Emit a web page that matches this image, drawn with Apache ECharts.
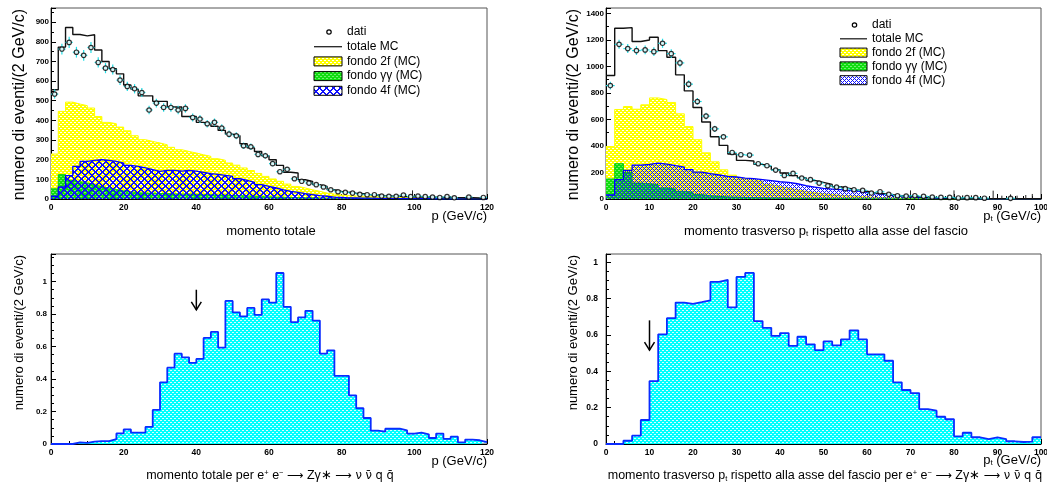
<!DOCTYPE html>
<html>
<head>
<meta charset="utf-8">
<script src="https://cdn.jsdelivr.net/npm/echarts@6/dist/echarts.min.js"></script>
<style>
  html, body { margin: 0; padding: 0; background: #fff; }
  #chart { width: 1047px; height: 487px; }
</style>
</head>
<body>
<div id="chart"></div>
<script>
// Histograms in 2 GeV/c bins.
// Total momentum p, 0–120 GeV/c (60 bins)
const pData = [534, 763, 797, 747, 731, 771, 695, 666, 659, 605,
  573, 561, 542, 453, 488, 466, 466, 453, 461, 415,
  407, 383, 390, 361, 330, 322, 271, 266, 227, 220,
  180, 139, 151, 103, 90, 81, 73, 61, 47, 37,
  34, 30, 24, 22, 22, 15, 14, 14, 20, 12,
  15, 12, 10, 8, 12, 6, null, 10, null, 8];
const pTotMC = [556, 773, 873, 837, 830, 836, 758, 700, 663, 637,
  580, 559, 525, 525, 497, 497, 468, 468, 420, 420,
  390, 383, 370, 349, 330, 322, 281, 260, 242, 220,
  200, 171, 136, 132, 98, 90, 73, 64, 47, 39,
  34, 30, 27, 22, 20, 17, 15, 14, 12, 11,
  10, 10, 9, 8, 8, 7, 6, 6, 5, 5];
const p2f = [229, 446, 493, 483, 475, 463, 420, 390, 383, 366,
  347, 322, 302, 293, 285, 276, 263, 251, 242, 234,
  225, 217, 205, 197, 183, 172, 158, 145, 130, 115,
  102, 90, 76, 64, 56, 47, 39, 30, 25, 20,
  17, 15, 14, 12, 11, 10, 9, 8, 8, 7,
  7, 6, 6, 5, 5, 4, 4, 4, 3, 3];
const pGG = [52, 124, 95, 88, 82, 72, 62, 56, 48, 42,
  36, 32, 30, 30, 28, 28, 26, 25, 25, 24,
  22, 22, 20, 20, 18, 17, 15, 14, 12, 11,
  10, 9, 8, 7, 6, 6, 5, 4, 4, 3,
  3, 3, 2, 2, 2, 2, 2, 1, 1, 1,
  1, 1, 1, 1, 1, 1, 1, 1, 1, 1];
const p4f = [14, 61, 119, 166, 191, 197, 200, 197, 191, 183,
  171, 166, 158, 149, 141, 146, 146, 142, 146, 142,
  136, 129, 125, 120, 115, 103, 95, 85, 73, 64,
  56, 47, 39, 34, 27, 22, 17, 14, 10, 8,
  6, 5, 4, 4, 3, 3, 3, 2, 2, 2,
  2, 2, 1, 1, 1, 1, 1, 1, 1, 1];
const pMCErr = [[99.5, 44]];

// Transverse momentum pt, 0–100 GeV/c (50 bins)
const ptData = [855, 1166, 1134, 1119, 1124, 1111, 1174, 1096, 1026, 866,
  735, 625, 529, 469, 351, 334, 331, 266, 251, 218,
  178, 193, 158, 146, 120, 100, 90, 78, 70, 65,
  45, 55, 35, 25, 22, 25, 20, 15, 12, 12,
  8, 10, 10, 6, null, null, 5, null, null, null];
const ptTotMC = [931, 1287, 1292, 1187, 1199, 1219, 1119, 1069, 936, 815,
  690, 580, 469, 404, 339, 291, 286, 261, 246, 221,
  196, 176, 160, 140, 125, 110, 92, 80, 68, 58,
  45, 40, 32, 25, 20, 16, 12, 10, 8, 6,
  5, 4, 4, 3, 3, 3, 2, 2, 2, 2];
const pt2f = [396, 675, 697, 677, 710, 762, 750, 728, 642, 546,
  447, 348, 280, 220, 180, 155, 146, 133, 110, 95,
  82, 70, 58, 48, 40, 34, 28, 24, 20, 16,
  13, 11, 9, 7, 6, 5, 4, 3, 3, 2,
  2, 2, 1, 1, 1, 1, 1, 1, 1, 1];
const ptGG = [151, 266, 200, 120, 115, 108, 83, 75, 58, 50,
  33, 25, 20, 16, 14, 12, 10, 9, 8, 7,
  6, 5, 5, 4, 4, 3, 3, 3, 2, 2,
  2, 2, 1, 1, 1, 1, 1, 1, 1, 1,
  1, 0, 0, 0, 0, 0, 0, 0, 0, 0];
const pt4f = [30, 146, 216, 256, 261, 271, 263, 251, 241, 221,
  203, 191, 181, 171, 166, 158, 153, 146, 138, 130,
  125, 115, 100, 90, 80, 75, 70, 65, 60, 50,
  40, 35, 28, 23, 18, 13, 10, 7, 5, 4,
  3, 3, 2, 2, 2, 1, 1, 1, 1, 1];
const ptMCErr = [[70, 65], [80, 65], [82, 28], [84, 28], [89, 63],
  [91, 25], [93, 35], [94.5, 25], [96.5, 30], [98, 38]];

// Signal e+e- -> Z gamma* -> nu nubar q qbar
const pSignal = [0, 0, 0, 0.01, 0.007, 0.015, 0.018, 0.018, 0.03, 0.065,
  0.09, 0.07, 0.07, 0.105, 0.21, 0.38, 0.47, 0.556, 0.534, 0.50,
  0.524, 0.653, 0.69, 0.593, 0.881, 0.81, 0.786, 0.838, 0.795, 0.89,
  0.87, 1.053, 0.845, 0.75, 0.78, 0.82, 0.76, 0.556, 0.577, 0.42,
  0.42, 0.30, 0.22, 0.16, 0.082, 0.076, 0.094, 0.094, 0.084, 0.064,
  0.07, 0.06, 0.037, 0.064, 0.031, 0.045, 0.01, 0.027, 0.023, 0.012];
const ptSignal = [0, 0, 0.018, 0.046, 0.132, 0.346, 0.603, 0.692, 0.778, 0.771,
  0.78, 0.79, 0.892, 0.903, 0.751, 0.919, 0.941, 0.676, 0.639, 0.595,
  0.61, 0.54, 0.59, 0.548, 0.516, 0.564, 0.542, 0.575, 0.625, 0.575,
  0.493, 0.493, 0.458, 0.339, 0.297, 0.28, 0.192, 0.183, 0.15, 0.136,
  0.042, 0.062, 0.037, 0.027, 0.037, 0.027, 0.015, 0.011, 0.013, 0.037];

// Cut positions marked with arrows: [x, arrow top, arrow tip]
const pCutArrow = [[40, 0.95, 0.826]];
const ptCutArrow = [[10, 0.68, 0.516]];

// Axis ranges: [max, tick interval, minor splits]
const pAxis = [120, 20, 4];
const ptAxis = [100, 10, 5];
const yAxisP = [972, 100, 2];
const yAxisPt = [1440, 200, 2];
const yAxisSigP = [1.17, 0.2, 4];
const yAxisSigPt = [1.045, 0.2, 4];

const BIN = 2;
const FF = '"Liberation Sans", Arial, Helvetica, sans-serif';
const FG = '"DejaVu Sans", "Liberation Sans", sans-serif';

// ---- fill patterns ----
function dotted(bg, dot, p, spots) {
  const c = document.createElement('canvas');
  c.width = p; c.height = p;
  const g = c.getContext('2d');
  g.fillStyle = bg; g.fillRect(0, 0, p, p);
  g.fillStyle = dot;
  spots.forEach(s => g.fillRect(s[0], s[1], 1, 1));
  return { image: c, repeat: 'repeat' };
}
function crossHatch(color, p, thick, bg) {
  const c = document.createElement('canvas');
  c.width = p; c.height = p;
  const g = c.getContext('2d');
  if (bg) { g.fillStyle = bg; g.fillRect(0, 0, p, p); }
  g.fillStyle = color;
  for (let y = 0; y < p; y++) {
    for (let x = 0; x < p; x++) {
      if ((x + y) % p < thick || ((x - y) % p + p) % p < thick) g.fillRect(x, y, 1, 1);
    }
  }
  return { image: c, repeat: 'repeat' };
}
const fineSpots = [[0, 0], [1, 0], [2, 2], [3, 2]];
const yellowFill = dotted('#ffff00', '#ffffff', 4, fineSpots);
const greenFill = dotted('#10dd10', '#70f070', 4, fineSpots);
const cyanFill = dotted('#00ffff', '#d8ffff', 4, fineSpots);
const blueHatchL = crossHatch('#1010ff', 7, 2);
const blueHatchR = crossHatch('#1010ff', 4, 1);
const blueHatchLBox = crossHatch('#1010ff', 7, 2, '#ffffff');
const blueHatchRBox = crossHatch('#1010ff', 4, 1, '#ffffff');

// ---- helpers ----
const histPoints = vals => vals.map((v, i) => [i * BIN, v]).concat([[vals.length * BIN, vals[vals.length - 1]]]);
const binCenters = vals => vals.map((v, i) => (v == null ? null : [i * BIN + BIN / 2, v])).filter(Boolean);

function histSeries(k, name, vals, lineColor, lineWidth, fill, z) {
  return {
    type: 'line', name, xAxisIndex: k, yAxisIndex: k, step: 'end',
    data: histPoints(vals), symbol: 'none', showSymbol: false, z,
    lineStyle: { color: lineColor, width: lineWidth },
    areaStyle: fill ? { color: fill, opacity: 1 } : undefined,
    animation: false, silent: true
  };
}
function errorBarSeries(k, vals) {
  return {
    type: 'custom', xAxisIndex: k, yAxisIndex: k, z: 6, silent: true, animation: false,
    clip: true,
    data: binCenters(vals).map(d => [d[0], d[1], Math.sqrt(d[1])]),
    encode: { x: 0, y: 1 },
    renderItem(params, api) {
      const x = api.value(0), y = api.value(1), e = api.value(2);
      const c = api.coord([x, y]);
      const l = api.coord([x - BIN / 2, y]), r = api.coord([x + BIN / 2, y]);
      const t = api.coord([x, y + e]), b = api.coord([x, Math.max(0, y - e)]);
      const st = { stroke: '#22dde6', lineWidth: 1.2 };
      return { type: 'group', children: [
        { type: 'line', shape: { x1: l[0], y1: c[1], x2: r[0], y2: c[1] }, style: st },
        { type: 'line', shape: { x1: c[0], y1: t[1], x2: c[0], y2: b[1] }, style: st }
      ] };
    }
  };
}
function pointSeries(k, vals) {
  return {
    type: 'scatter', name: 'dati', xAxisIndex: k, yAxisIndex: k, z: 7, silent: true, animation: false,
    data: binCenters(vals), symbol: 'circle', symbolSize: 4.4,
    itemStyle: { color: '#ffffff', borderColor: '#000', borderWidth: 1.2 }
  };
}
function mcErrSeries(k, list) {
  return {
    type: 'custom', xAxisIndex: k, yAxisIndex: k, z: 5, silent: true, animation: false,
    data: list, encode: { x: 0, y: 1 },
    renderItem(params, api) {
      const a = api.coord([api.value(0), 0]), b = api.coord([api.value(0), api.value(1)]);
      return { type: 'line', shape: { x1: a[0], y1: a[1], x2: b[0], y2: b[1] }, style: { stroke: '#222', lineWidth: 1 } };
    }
  };
}
function arrowSeries(k, list) {
  return {
    type: 'custom', xAxisIndex: k, yAxisIndex: k, z: 8, silent: true, animation: false,
    data: list, encode: { x: 0, y: 1 },
    renderItem(params, api) {
      const top = api.coord([api.value(0), api.value(1)]);
      const tip = api.coord([api.value(0), api.value(2)]);
      const st = { stroke: '#000', lineWidth: 1.5, fill: null };
      return { type: 'group', children: [
        { type: 'line', shape: { x1: top[0], y1: top[1], x2: tip[0], y2: tip[1] }, style: st },
        { type: 'polyline', shape: { points: [[tip[0] - 5, tip[1] - 8], [tip[0], tip[1]], [tip[0] + 5, tip[1] - 8]] }, style: st }
      ] };
    }
  };
}

// ---- layout ----
const grids = [
  { left: 51, top: 8, width: 436, height: 191 },
  { left: 606, top: 8, width: 435, height: 191 },
  { left: 51, top: 254, width: 436, height: 190 },
  { left: 606, top: 254, width: 435, height: 190 }
].map(g => Object.assign(g, { show: true, borderColor: '#555', borderWidth: 1, backgroundColor: 'transparent', outerBoundsMode: 'none', containLabel: false }));

const plainNum = v => String(Math.round(v * 1000) / 1000);
function xAxisCfg(k, ax) {
  return {
    type: 'value', gridIndex: k, min: 0, max: ax[0], interval: ax[1],
    axisLine: { show: true, onZero: false, lineStyle: { color: '#000', width: 1 } },
    axisTick: { show: true, inside: true, length: 5, lineStyle: { color: '#000' } },
    minorTick: { show: true, splitNumber: ax[2], length: 3, lineStyle: { color: '#000' } },
    splitLine: { show: false }, minorSplitLine: { show: false },
    axisLabel: { fontFamily: FF, fontSize: 8.5, fontWeight: 'bold', color: '#000', margin: 4, hideOverlap: false, formatter: plainNum }
  };
}
function yAxisCfg(k, ax, labelSize, labelMargin) {
  return {
    type: 'value', gridIndex: k, min: 0, max: ax[0], interval: ax[1],
    axisLine: { show: true, onZero: false, lineStyle: { color: '#000', width: 1 } },
    axisTick: { show: true, inside: true, length: 5, lineStyle: { color: '#000' } },
    minorTick: { show: true, splitNumber: ax[2], length: 3, lineStyle: { color: '#000' } },
    splitLine: { show: false }, minorSplitLine: { show: false },
    axisLabel: { fontFamily: FF, fontSize: labelSize, fontWeight: 'bold', color: '#000', margin: labelMargin, showMaxLabel: false, hideOverlap: false, formatter: plainNum }
  };
}

// ---- text elements ----
function text(x, y, str, size, align, extra) {
  return Object.assign({
    type: 'text', x, y, silent: true,
    style: Object.assign({ text: str, fill: '#000', fontFamily: FF, fontSize: size, align, verticalAlign: 'middle' }, (extra && extra.style) || {})
  }, (extra && extra.el) || {});
}
const rich13 = {
  n: { fontFamily: FF, fontSize: 13 },
  s: { fontFamily: FF, fontSize: 8, padding: [6, 0, 0, 0] }
};
// smaller set for the long process captions under the lower panels
const richProc = {
  n: { fontFamily: FF, fontSize: 12.5 },
  t: { fontFamily: FF, fontSize: 7.5, padding: [6, 0, 0, 0] },
  s: { fontFamily: FF, fontSize: 7.5, padding: [0, 0, 6, 0] },
  g: { fontFamily: FG, fontSize: 11.5 }
};
const yTitle = 'numero di eventi/(2 GeV/c)';
function yTitleEl(x, yTop, size) {
  return text(x, yTop, yTitle, size, 'right', { el: { rotation: Math.PI / 2 } });
}
function legendEls(x0, y0, dy, boxW, hatchBox) {
  const items = [];
  const tx = x0 + boxW + 5;
  items.push({ type: 'circle', silent: true, shape: { cx: x0 + boxW / 2 + 1, cy: y0, r: 2.2 }, style: { fill: null, stroke: '#000', lineWidth: 1.2 } });
  items.push(text(tx, y0, 'dati', 12, 'left'));
  items.push({ type: 'line', silent: true, shape: { x1: x0, y1: y0 + dy, x2: x0 + boxW, y2: y0 + dy }, style: { stroke: '#222', lineWidth: 1.3 } });
  items.push(text(tx, y0 + dy, 'totale MC', 12, 'left'));
  const boxes = [[yellowFill, 'fondo 2f (MC)'], [greenFill, 'fondo γγ (MC)'], [hatchBox, 'fondo 4f (MC)']];
  boxes.forEach((b, i) => {
    const cy = y0 + dy * (i + 2);
    items.push({ type: 'rect', silent: true, shape: { x: x0, y: cy - 4.5, width: boxW, height: 9 }, style: { fill: b[0], stroke: '#000', lineWidth: 1 } });
    items.push(text(tx, cy, b[1], 12, 'left'));
  });
  return items;
}
const processTail = '{n| per e}{s|+}{n| e}{s|−}{n| }{g|⟶}{n| Zγ∗ }{g|⟶ ν ν̄ q q̄}';

const graphic = [
  yTitleEl(20, 9, 16),
  yTitleEl(574, 9, 16),
  yTitleEl(19, 255, 13),
  yTitleEl(573, 255, 13),
  text(487, 216, 'p (GeV/c)', 13, 'right'),
  text(1041, 216, '{n|p}{s|t}{n| (GeV/c)}', 13, 'right', { style: { rich: rich13 } }),
  text(487, 461, 'p (GeV/c)', 13, 'right'),
  text(1041, 460, '{n|p}{s|t}{n| (GeV/c)}', 13, 'right', { style: { rich: rich13 } }),
  text(271, 231, 'momento totale', 13, 'center'),
  text(826, 231, '{n|momento trasverso p}{s|t}{n| rispetto alla asse del fascio}', 13, 'center', { style: { rich: rich13 } }),
  text(270, 476, '{n|momento totale}' + processTail, 12.5, 'center', { style: { rich: richProc } }),
  text(825, 476, '{n|momento trasverso p}{t|t}{n| rispetto alla asse del fascio}' + processTail, 12.5, 'center', { style: { rich: richProc } })
].concat(legendEls(314, 32, 14.7, 28, blueHatchLBox), legendEls(840, 25, 13.8, 27, blueHatchRBox));

const series = [
  // total momentum
  histSeries(0, 'fondo 2f (MC)', p2f, '#ffff00', 1, yellowFill, 1),
  histSeries(0, 'fondo γγ (MC)', pGG, '#10cc10', 1, greenFill, 2),
  histSeries(0, 'fondo 4f (MC)', p4f, '#0000ff', 1.3, blueHatchL, 3),
  histSeries(0, 'totale MC', pTotMC, '#111', 1.4, null, 4),
  mcErrSeries(0, pMCErr),
  errorBarSeries(0, pData),
  pointSeries(0, pData),
  // transverse momentum
  histSeries(1, 'fondo 2f (MC)', pt2f, '#ffff00', 1, yellowFill, 1),
  histSeries(1, 'fondo γγ (MC)', ptGG, '#10cc10', 1, greenFill, 2),
  histSeries(1, 'fondo 4f (MC)', pt4f, '#0000ff', 1.3, blueHatchR, 3),
  histSeries(1, 'totale MC', ptTotMC, '#111', 1.4, null, 4),
  mcErrSeries(1, ptMCErr),
  errorBarSeries(1, ptData),
  pointSeries(1, ptData),
  // signal
  histSeries(2, 'segnale p', pSignal, '#0a2cff', 1.8, cyanFill, 2),
  arrowSeries(2, pCutArrow),
  histSeries(3, 'segnale pt', ptSignal, '#0a2cff', 1.8, cyanFill, 2),
  arrowSeries(3, ptCutArrow)
];

const chart = echarts.init(document.getElementById('chart'), null, { renderer: 'canvas' });
chart.setOption({
  backgroundColor: '#ffffff',
  animation: false,
  grid: grids,
  xAxis: [xAxisCfg(0, pAxis), xAxisCfg(1, ptAxis), xAxisCfg(2, pAxis), xAxisCfg(3, ptAxis)],
  yAxis: [yAxisCfg(0, yAxisP, 8, 2), yAxisCfg(1, yAxisPt, 8, 2), yAxisCfg(2, yAxisSigP, 8, 4), yAxisCfg(3, yAxisSigPt, 8.5, 8)],
  series,
  graphic
});
</script>
</body>
</html>
